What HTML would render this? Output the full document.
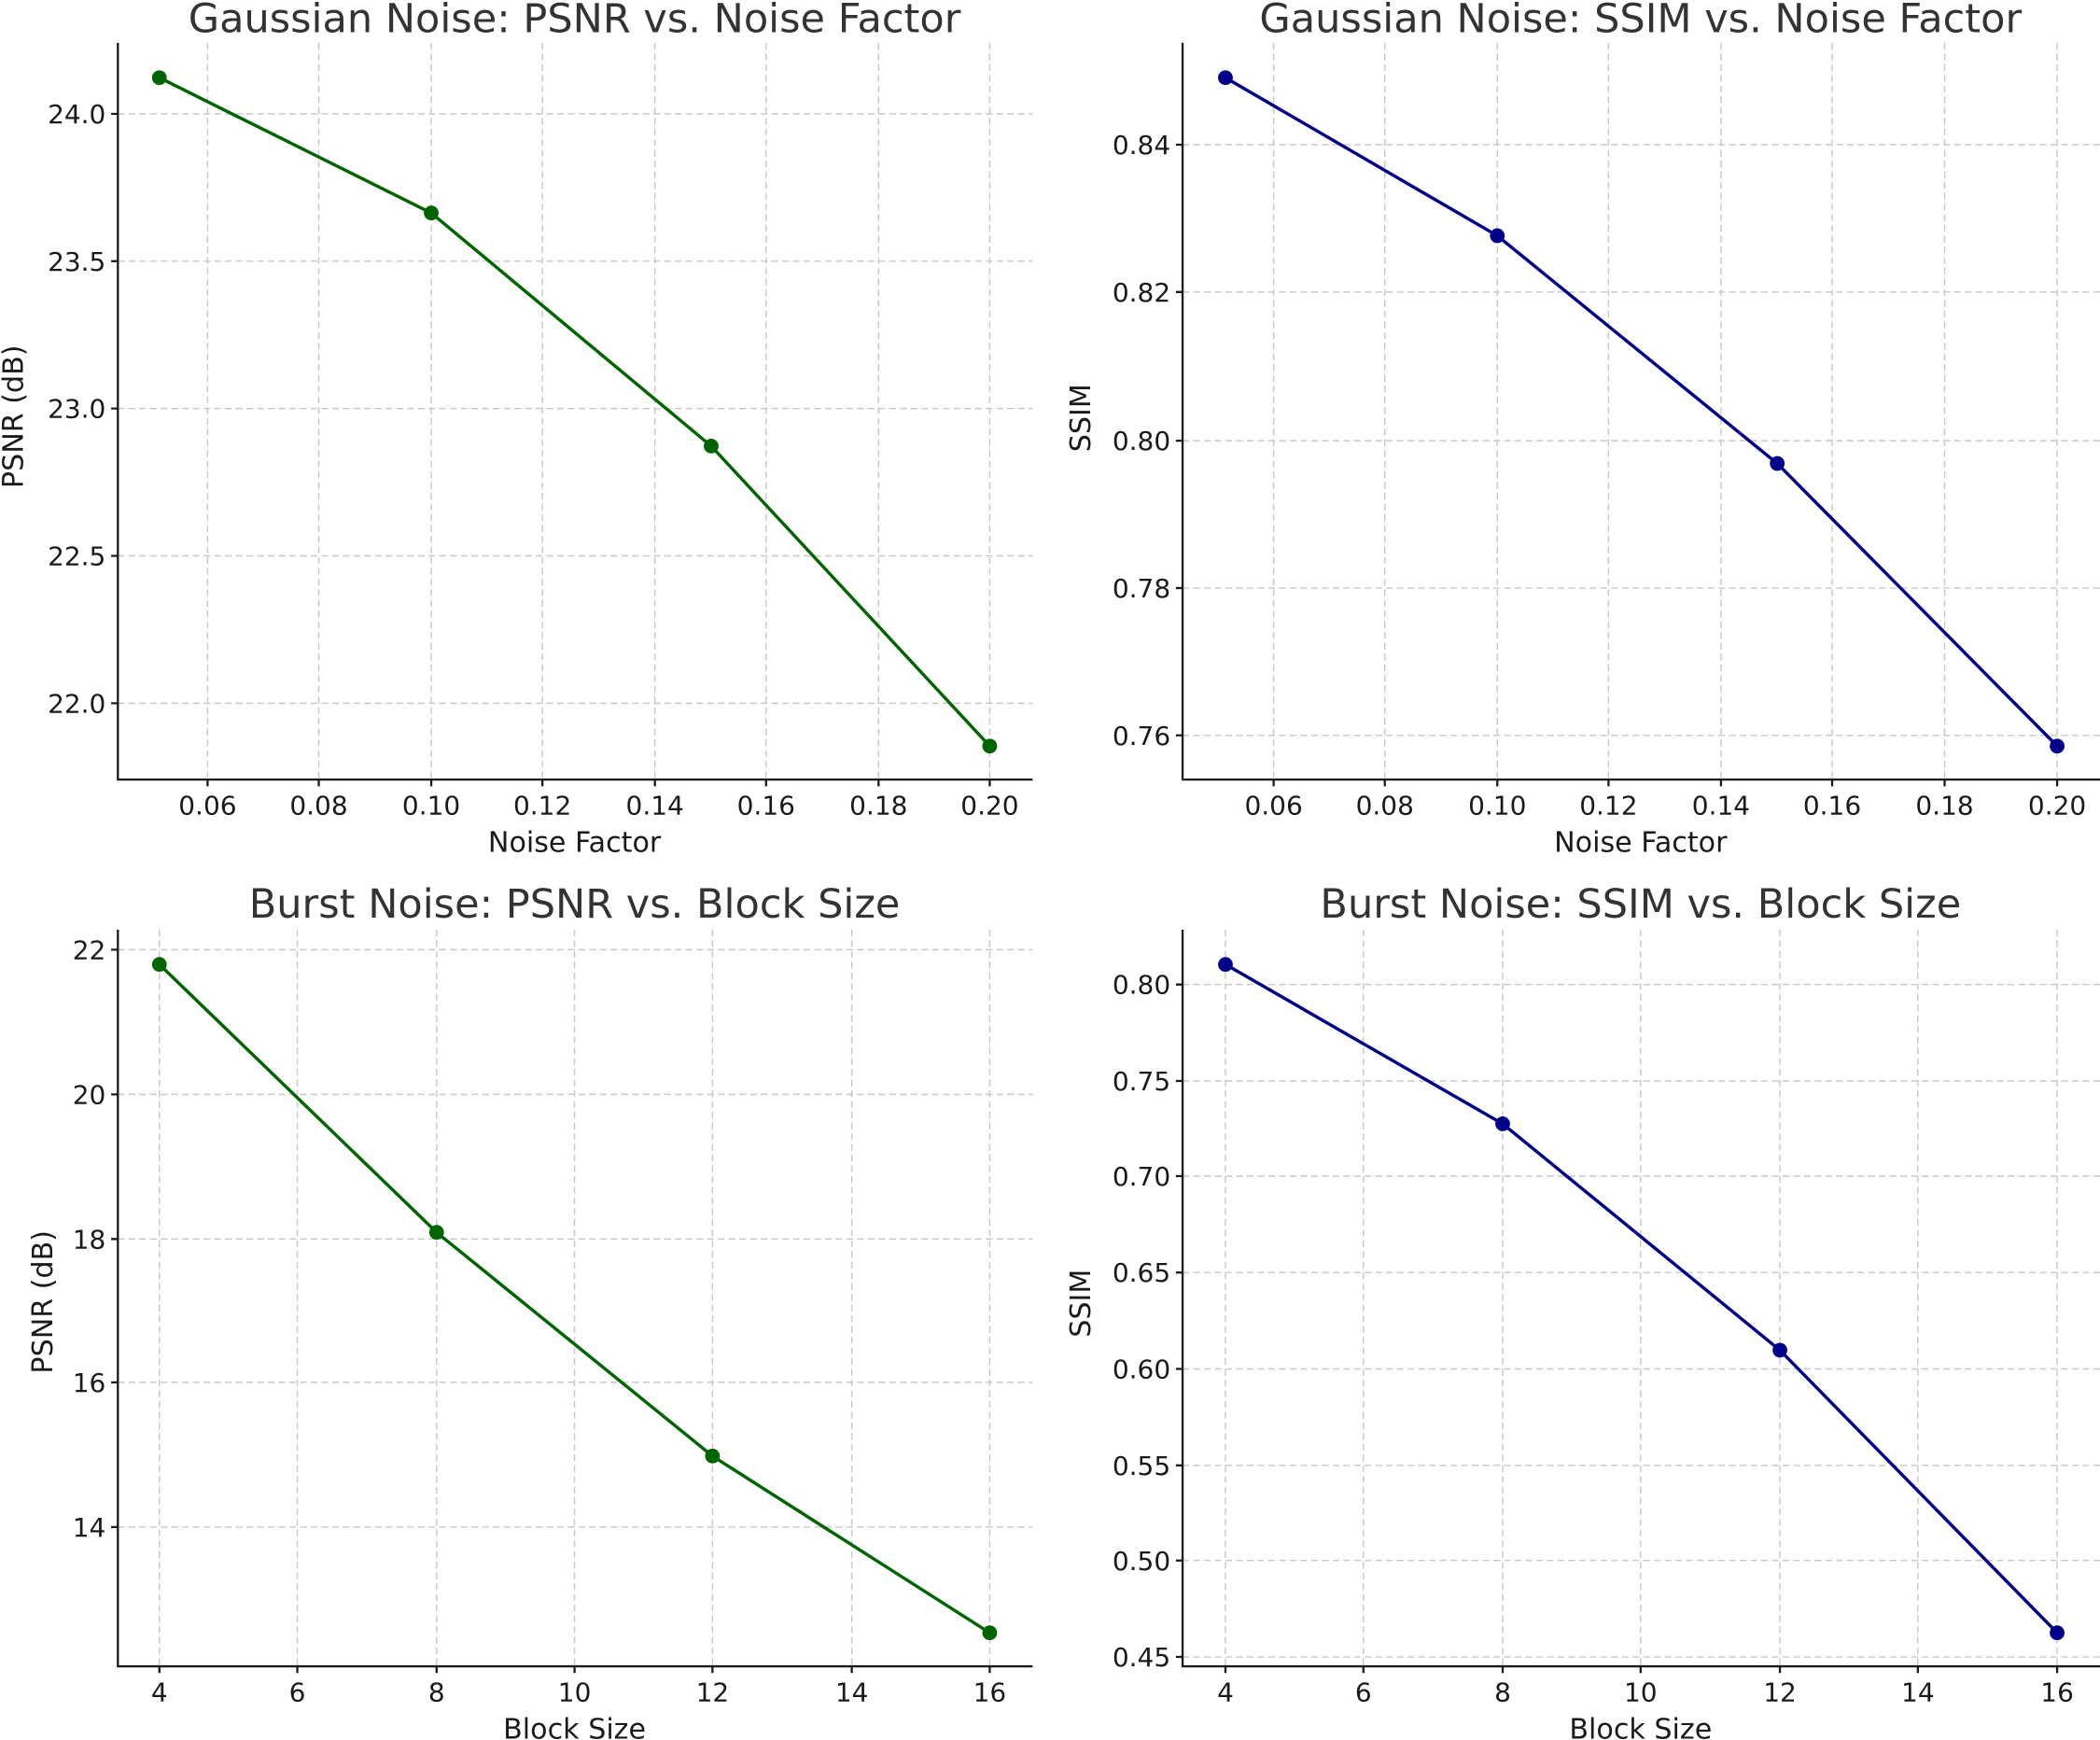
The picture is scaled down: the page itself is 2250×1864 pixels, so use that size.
<!DOCTYPE html>
<html><head><meta charset="utf-8"><style>
html,body{margin:0;padding:0;background:#fff;}
svg{display:block;}
text{font-family:"DejaVu Sans","Liberation Sans",sans-serif;fill:#1a1a1a;}
.t{font-size:30px;fill:#333;}
.k{font-size:19.5px;}
.l{font-size:21px;}
.g{stroke:#c8c8c8;stroke-width:1;stroke-dasharray:5,3;fill:none;}
.s{stroke:#1a1a1a;stroke-width:1.6;fill:none;}
</style></head><body>
<svg width="2250" height="1864" viewBox="0 0 1568 1299" preserveAspectRatio="none" xmlns="http://www.w3.org/2000/svg">
<rect width="1568" height="1299" fill="#fff"/>

<!-- Panel 1 -->
<g>
<text class="t" x="429" y="24" text-anchor="middle">Gaussian Noise: PSNR vs. Noise Factor</text>
<g class="g">
<path d="M155,32V582M238,32V582M322,32V582M405,32V582M489,32V582M572,32V582M656,32V582M739,32V582"/>
<path d="M88,85H771M88,195H771M88,305H771M88,415H771M88,525H771"/>
</g>
<path class="s" d="M88,32V582H771"/>
<g class="s"><path d="M155,582v5M238,582v5M322,582v5M405,582v5M489,582v5M572,582v5M656,582v5M739,582v5M88,85h-5M88,195h-5M88,305h-5M88,415h-5M88,525h-5"/></g>
<g class="k" text-anchor="middle">
<text x="155" y="608">0.06</text><text x="238" y="608">0.08</text><text x="322" y="608">0.10</text><text x="405" y="608">0.12</text><text x="489" y="608">0.14</text><text x="572" y="608">0.16</text><text x="656" y="608">0.18</text><text x="739" y="608">0.20</text>
</g>
<g class="k" text-anchor="end">
<text x="79" y="92">24.0</text><text x="79" y="202">23.5</text><text x="79" y="312">23.0</text><text x="79" y="422">22.5</text><text x="79" y="532">22.0</text>
</g>
<text class="l" x="429" y="636" text-anchor="middle">Noise Factor</text>
<text class="l" transform="translate(17,311) rotate(-90)" text-anchor="middle">PSNR (dB)</text>
<polyline points="119,58 322,159 531,333 739,557" fill="none" stroke="#006400" stroke-width="2.4"/>
<g fill="#006400"><circle cx="119" cy="58" r="5.5"/><circle cx="322" cy="159" r="5.5"/><circle cx="531" cy="333" r="5.5"/><circle cx="739" cy="557" r="5.5"/></g>
</g>

<!-- Panel 2 -->
<g>
<text class="t" x="1225" y="24" text-anchor="middle">Gaussian Noise: SSIM vs. Noise Factor</text>
<g class="g">
<path d="M951,32V582M1034,32V582M1118,32V582M1201,32V582M1285,32V582M1368,32V582M1452,32V582M1536,32V582"/>
<path d="M883,108H1568M883,218H1568M883,329H1568M883,439H1568M883,549H1568"/>
</g>
<path class="s" d="M883,32V582H1568"/>
<g class="s"><path d="M951,582v5M1034,582v5M1118,582v5M1201,582v5M1285,582v5M1368,582v5M1452,582v5M1536,582v5M883,108h-5M883,218h-5M883,329h-5M883,439h-5M883,549h-5"/></g>
<g class="k" text-anchor="middle">
<text x="951" y="608">0.06</text><text x="1034" y="608">0.08</text><text x="1118" y="608">0.10</text><text x="1201" y="608">0.12</text><text x="1285" y="608">0.14</text><text x="1368" y="608">0.16</text><text x="1452" y="608">0.18</text><text x="1536" y="608">0.20</text>
</g>
<g class="k" text-anchor="end">
<text x="874" y="115">0.84</text><text x="874" y="225">0.82</text><text x="874" y="336">0.80</text><text x="874" y="446">0.78</text><text x="874" y="556">0.76</text>
</g>
<text class="l" x="1225" y="636" text-anchor="middle">Noise Factor</text>
<text class="l" transform="translate(814,312) rotate(-90)" text-anchor="middle">SSIM</text>
<polyline points="915,58 1118,176 1327,346 1536,557" fill="none" stroke="#00008b" stroke-width="2.4"/>
<g fill="#00008b"><circle cx="915" cy="58" r="5.5"/><circle cx="1118" cy="176" r="5.5"/><circle cx="1327" cy="346" r="5.5"/><circle cx="1536" cy="557" r="5.5"/></g>
</g>

<!-- Panel 3 -->
<g>
<text class="t" x="429" y="685" text-anchor="middle">Burst Noise: PSNR vs. Block Size</text>
<g class="g">
<path d="M119,694V1244M222,694V1244M326,694V1244M429,694V1244M532,694V1244M636,694V1244M739,694V1244"/>
<path d="M88,709H771M88,817H771M88,925H771M88,1032H771M88,1140H771"/>
</g>
<path class="s" d="M88,694V1244H771"/>
<g class="s"><path d="M119,1244v5M222,1244v5M326,1244v5M429,1244v5M532,1244v5M636,1244v5M739,1244v5M88,709h-5M88,817h-5M88,925h-5M88,1032h-5M88,1140h-5"/></g>
<g class="k" text-anchor="middle">
<text x="119" y="1270">4</text><text x="222" y="1270">6</text><text x="326" y="1270">8</text><text x="429" y="1270">10</text><text x="532" y="1270">12</text><text x="636" y="1270">14</text><text x="739" y="1270">16</text>
</g>
<g class="k" text-anchor="end">
<text x="79" y="716">22</text><text x="79" y="824">20</text><text x="79" y="932">18</text><text x="79" y="1039">16</text><text x="79" y="1147">14</text>
</g>
<text class="l" x="429" y="1298" text-anchor="middle">Block Size</text>
<text class="l" transform="translate(39,972) rotate(-90)" text-anchor="middle">PSNR (dB)</text>
<polyline points="119,720 326,920 532,1087 739,1219" fill="none" stroke="#006400" stroke-width="2.4"/>
<g fill="#006400"><circle cx="119" cy="720" r="5.5"/><circle cx="326" cy="920" r="5.5"/><circle cx="532" cy="1087" r="5.5"/><circle cx="739" cy="1219" r="5.5"/></g>
</g>

<!-- Panel 4 -->
<g>
<text class="t" x="1225" y="685" text-anchor="middle">Burst Noise: SSIM vs. Block Size</text>
<g class="g">
<path d="M915,694V1244M1018,694V1244M1122,694V1244M1225,694V1244M1329,694V1244M1432,694V1244M1536,694V1244"/>
<path d="M883,735H1568M883,807H1568M883,878H1568M883,950H1568M883,1022H1568M883,1094H1568M883,1165H1568M883,1237H1568"/>
</g>
<path class="s" d="M883,694V1244H1568"/>
<g class="s"><path d="M915,1244v5M1018,1244v5M1122,1244v5M1225,1244v5M1329,1244v5M1432,1244v5M1536,1244v5M883,735h-5M883,807h-5M883,878h-5M883,950h-5M883,1022h-5M883,1094h-5M883,1165h-5M883,1237h-5"/></g>
<g class="k" text-anchor="middle">
<text x="915" y="1270">4</text><text x="1018" y="1270">6</text><text x="1122" y="1270">8</text><text x="1225" y="1270">10</text><text x="1329" y="1270">12</text><text x="1432" y="1270">14</text><text x="1536" y="1270">16</text>
</g>
<g class="k" text-anchor="end">
<text x="874" y="742">0.80</text><text x="874" y="814">0.75</text><text x="874" y="885">0.70</text><text x="874" y="957">0.65</text><text x="874" y="1029">0.60</text><text x="874" y="1101">0.55</text><text x="874" y="1172">0.50</text><text x="874" y="1244">0.45</text>
</g>
<text class="l" x="1225" y="1298" text-anchor="middle">Block Size</text>
<text class="l" transform="translate(814,973) rotate(-90)" text-anchor="middle">SSIM</text>
<polyline points="915,720 1122,839 1329,1008 1536,1219" fill="none" stroke="#00008b" stroke-width="2.4"/>
<g fill="#00008b"><circle cx="915" cy="720" r="5.5"/><circle cx="1122" cy="839" r="5.5"/><circle cx="1329" cy="1008" r="5.5"/><circle cx="1536" cy="1219" r="5.5"/></g>
</g>
</svg>
</body></html>
